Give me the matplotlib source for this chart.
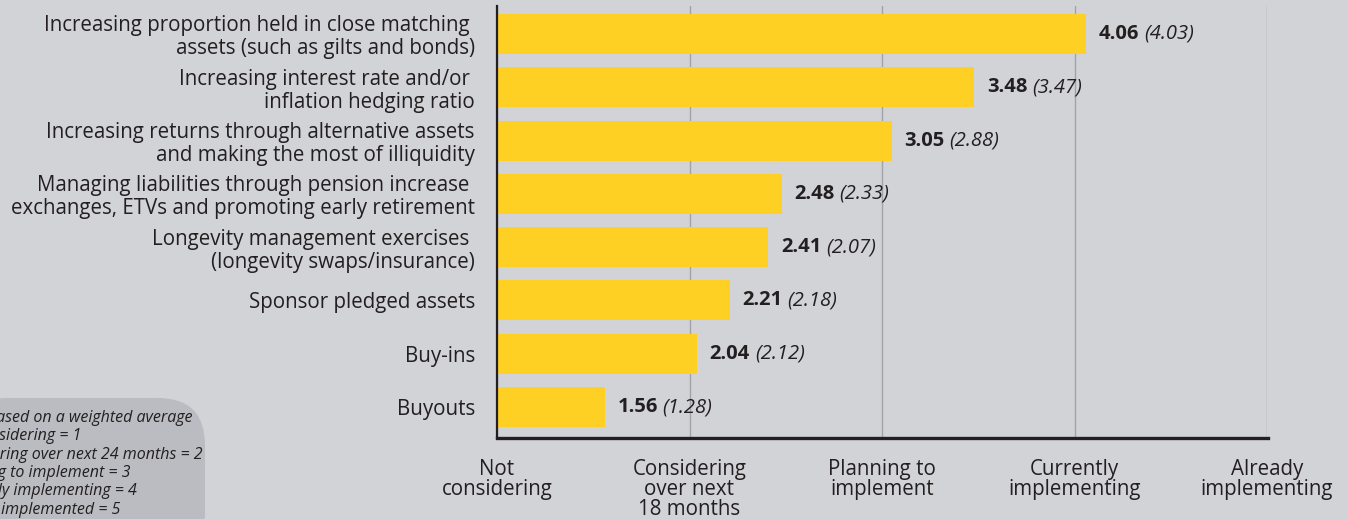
import matplotlib.pyplot as plt
from matplotlib.patches import FancyBboxPatch

# =========================
# DATA
# =========================
categories = [
    "Increasing proportion held in close matching \nassets (such as gilts and bonds)",
    "Increasing interest rate and/or \ninflation hedging ratio",
    "Increasing returns through alternative assets\nand making the most of illiquidity",
    "Managing liabilities through pension increase \nexchanges, ETVs and promoting early retirement",
    "Longevity management exercises \n(longevity swaps/insurance)",
    "Sponsor pledged assets",
    "Buy-ins",
    "Buyouts",
]
scores = [4.06, 3.48, 3.05, 2.48, 2.41, 2.21, 2.04, 1.56]
previous = [4.03, 3.47, 2.88, 2.33, 2.07, 2.18, 2.12, 1.28]

tick_values = [1, 2, 3, 4, 5]
tick_labels = [
    "Not\nconsidering",
    "Considering\nover next\n18 months",
    "Planning to\nimplement",
    "Currently\nimplementing",
    "Already\nimplementing",
]

key_lines = [
    "Score based on a weighted average",
    "Not considering = 1",
    "Considering over next 24 months = 2",
    "Planning to implement = 3",
    "Currently implementing = 4",
    "Already implemented = 5",
]

# =========================
# STYLE
# =========================
BG = "#d2d3d7"
BAR = "#ffd024"
TEXT = "#231f20"
GRID = "#a2a3a6"
KEY_BG = "#babcc2"
W, H = 1348, 519

plt.rcParams["font.family"] = ["Open Sans", "DejaVu Sans"]

fig = plt.figure(figsize=(W / 100, H / 100), dpi=100, facecolor=BG)
ax = fig.add_axes([497 / W, 1 - 438 / H, (1267 - 497) / W, (438 - 6) / H])
ax.set_facecolor(BG)

ypos = list(range(len(categories)))
ax.barh(ypos, scores, height=0.75, color=BAR, zorder=2)

ax.set_xlim(1, 5)
ax.set_ylim(7.58, -0.525)

ax.set_xticks(tick_values)
ax.set_xticklabels(tick_labels, fontsize=14.8, color=TEXT, linespacing=0.94)
ax.set_yticks(ypos)
ax.set_yticklabels(categories, fontsize=14.8, color=TEXT, linespacing=1.12)
ax.tick_params(axis="x", length=0, pad=15)
ax.tick_params(axis="y", length=0, pad=16)

ax.grid(axis="x", color=GRID, linewidth=1, zorder=0)
for s in ["top", "right"]:
    ax.spines[s].set_visible(False)
ax.spines["left"].set_linewidth(1.6)
ax.spines["left"].set_color(TEXT)
ax.spines["left"].set_zorder(3)
ax.spines["bottom"].set_linewidth(2.4)
ax.spines["bottom"].set_color(TEXT)
ax.spines["bottom"].set_bounds(1, 5.005)

# value labels: bold score, italic previous
fig.canvas.draw()
renderer = fig.canvas.get_renderer()
inv = ax.transData.inverted()
for y, s, p in zip(ypos, scores, previous):
    t = ax.annotate(f"{s:.2f}", (s, y), xytext=(9, 0), textcoords="offset points",
                    ha="left", va="center", fontsize=14.5, fontweight="bold", color=TEXT)
    bb = t.get_window_extent(renderer)
    x_end = inv.transform((bb.x1, bb.y0))[0]
    ax.annotate(f"({p:.2f})", (x_end, y), xytext=(3.5, 0), textcoords="offset points",
                ha="left", va="center", fontsize=14.5, fontstyle="italic", color=TEXT)

# key box, cut off at the left edge
box = FancyBboxPatch((-40 / W, -40 / H), 245 / W, (519 - 398 + 40) / H,
                     boxstyle="round,pad=0,rounding_size=0.035",
                     transform=fig.transFigure, facecolor=KEY_BG, edgecolor="none",
                     mutation_aspect=W / H)
fig.patches.append(box)
key_texts = []
for i, line in enumerate(key_lines):
    key_texts.append(fig.text(0, 1 - (418 + i * 18.3) / H, line, fontsize=11.5,
                              fontstyle="italic", color=TEXT, ha="left", va="center"))
# shift the key text so the first line ends where the reference's does
fig.canvas.draw()
bb = key_texts[0].get_window_extent(renderer)
shift = 193 - bb.x1
for t in key_texts:
    t.set_x(shift / W)

fig.savefig("out.png", dpi=100, facecolor=BG)
